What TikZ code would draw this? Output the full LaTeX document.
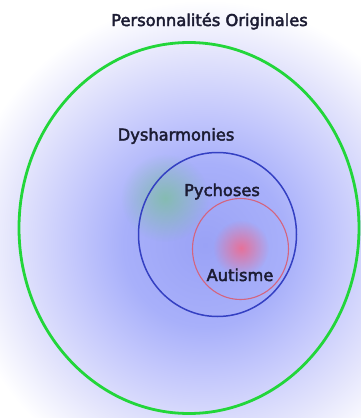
\documentclass[tikz,border=0pt]{standalone}
\usepackage{fontspec}
\setmainfont{DejaVu Sans}
\newfontfamily\lblfont{DejaVu Sans}[FakeBold=2.6]
\usetikzlibrary{shapes.geometric,fadings}
\definecolor{ink}{HTML}{1C1C33}
\definecolor{ringg}{HTML}{22D63A}
\definecolor{ringb}{HTML}{3440C2}
\definecolor{ringr}{HTML}{D4647E}
\definecolor{glow}{HTML}{9AA2F6}
\definecolor{glowin}{HTML}{A8B0FA}
\definecolor{glowmid}{HTML}{C4C8FC}
\definecolor{glowout}{HTML}{E4E5FC}
\definecolor{blobg}{HTML}{74C48C}
\definecolor{blobr}{HTML}{F2688A}
\pgfdeclareradialshading{bgglow}{\pgfpointorigin}{color(0bp)=(glow);
  color(8bp)=(glowin); color(13bp)=(glowmid); color(19bp)=(glowout);
  color(24bp)=(white); color(50bp)=(white)}
\tikzfading[name=softdot, inner color=transparent!0, outer color=transparent!100]
\tikzset{
  ring/.style={ellipse, inner sep=0pt},
  lbl/.style={anchor=base, text=ink, font=\fontsize{16.3}{20}\lblfont},
  blob/.style={path fading=softdot},
}

\begin{document}
\begin{tikzpicture}[x=1pt,y=-1pt]
\useasboundingbox (0,0) rectangle (361,418);
\begin{scope}
  \clip (0,0) rectangle (361,418);
  \shade[shading=bgglow] (205,245) circle [radius=255pt];
\end{scope}
\fill[blob, blobg, fill opacity=0.65] (165,198) circle [radius=44pt];
\fill[blob, blobr, fill opacity=0.85] (241,248) circle [radius=28pt];

% rings
\node[ring, draw=ringg, line width=2.8pt, minimum width=340pt, minimum height=371pt] (orig) at (189,228) {};
\node[ring, draw=ringb, line width=1.5pt, minimum width=158pt, minimum height=164pt] (psy) at (217.5,234.5) {};
\node[ring, draw=ringr, line width=1.1pt, minimum width=96pt, minimum height=101pt] (aut) at (240.5,249) {};

% labels
\node[lbl] (tOrig) at (209.5,26) {Personnalités Originales};
\node[lbl] (tDys) at (176,140.5) {Dysharmonies};
\node[lbl] (tPsy) at (222,196) {Pychoses};
\node[lbl] (tAut) at (240,281) {Autisme};
\end{tikzpicture}
\end{document}
